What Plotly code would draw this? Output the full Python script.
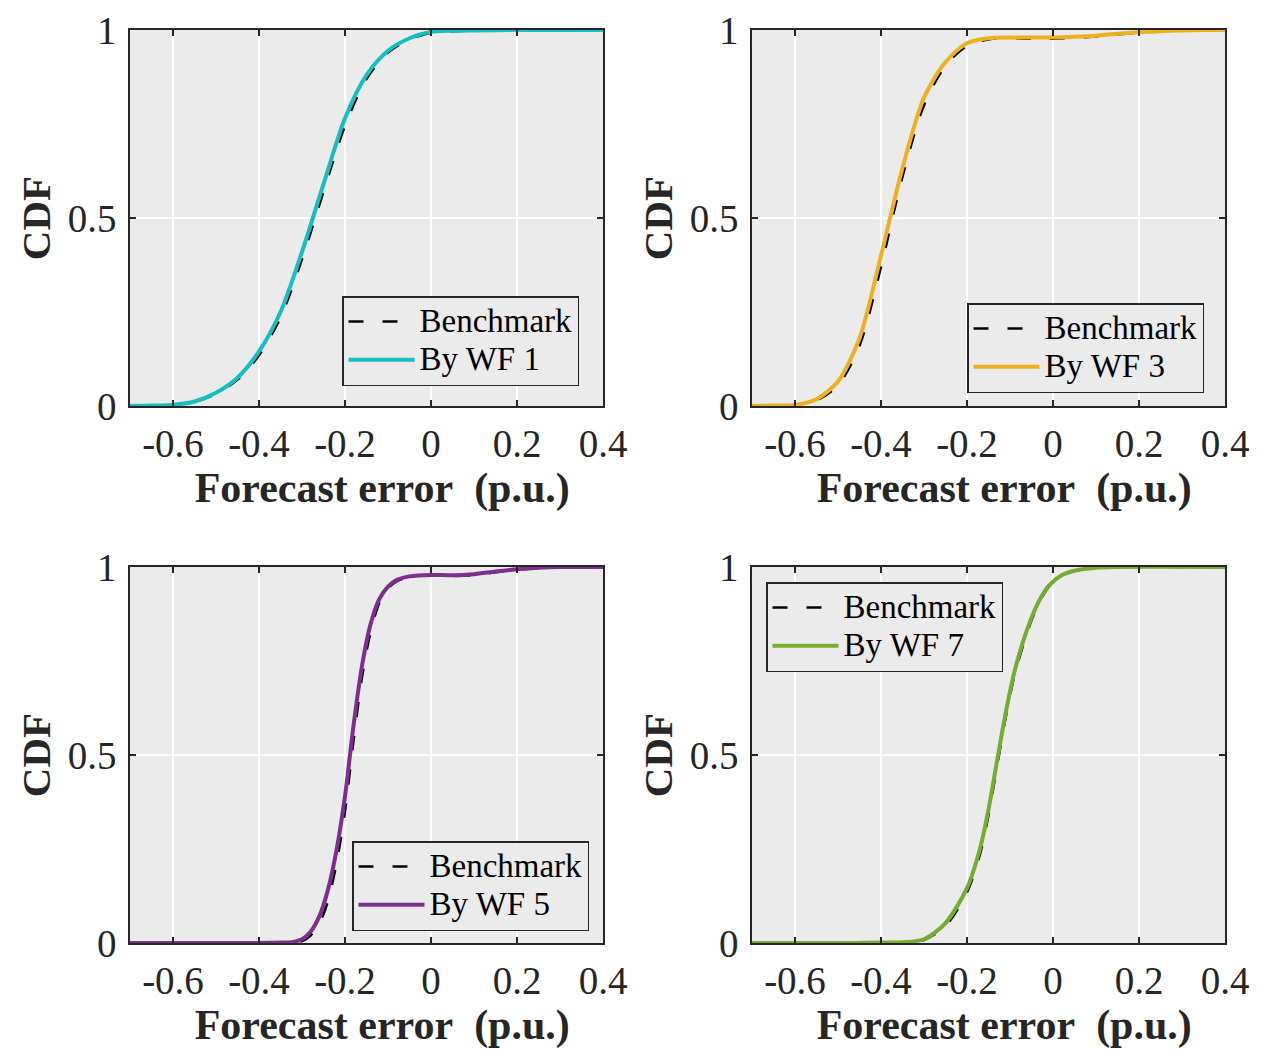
import plotly.graph_objects as go

# ---------------- data ----------------
x_wf1 = [-0.7, -0.65, -0.6, -0.55, -0.5, -0.45, -0.4, -0.35, -0.3, -0.25, -0.2, -0.15, -0.1, -0.05, 0.0, 0.05, 0.1, 0.2, 0.3, 0.4]
cdf_wf1 = [0, 0.001, 0.003, 0.012, 0.035, 0.075, 0.145, 0.25, 0.41, 0.59, 0.765, 0.88, 0.945, 0.978, 0.995, 0.998, 0.999, 1, 1, 1]
bench_wf1 = [0, 0.001, 0.003, 0.011, 0.032, 0.07, 0.135, 0.235, 0.39, 0.57, 0.745, 0.87, 0.94, 0.975, 0.993, 0.997, 0.999, 1, 1, 1]

x_wf3 = [-0.7, -0.65, -0.6, -0.55, -0.5, -0.45, -0.4, -0.35, -0.3, -0.25, -0.2, -0.15, -0.1, -0.05, 0.0, 0.05, 0.1, 0.15, 0.2, 0.25, 0.3, 0.35, 0.4]
cdf_wf3 = [0, 0.001, 0.003, 0.018, 0.065, 0.18, 0.40, 0.633, 0.82, 0.915, 0.965, 0.978, 0.98, 0.98, 0.98, 0.982, 0.985, 0.99, 0.994, 0.997, 0.999, 1, 1]
bench_wf3 = [0, 0.001, 0.003, 0.015, 0.055, 0.16, 0.37, 0.61, 0.80, 0.905, 0.958, 0.975, 0.978, 0.977, 0.977, 0.979, 0.983, 0.988, 0.993, 0.996, 0.999, 1, 1]

x_wf5 = [-0.7, -0.5, -0.35, -0.32, -0.3, -0.28, -0.26, -0.24, -0.22, -0.2, -0.18, -0.16, -0.14, -0.12, -0.1, -0.08, -0.05, 0.0, 0.05, 0.1, 0.15, 0.2, 0.25, 0.3, 0.4]
cdf_wf5 = [0, 0, 0.001, 0.003, 0.01, 0.03, 0.07, 0.14, 0.245, 0.39, 0.58, 0.74, 0.85, 0.915, 0.948, 0.965, 0.975, 0.979, 0.978, 0.981, 0.988, 0.994, 0.998, 1, 1]
bench_wf5 = [0, 0, 0.0, 0.002, 0.005, 0.02, 0.05, 0.11, 0.21, 0.35, 0.54, 0.71, 0.83, 0.905, 0.943, 0.962, 0.974, 0.977, 0.976, 0.978, 0.986, 0.993, 0.997, 0.999, 1]

x_wf7 = [-0.7, -0.5, -0.4, -0.35, -0.3, -0.25, -0.2, -0.17, -0.15, -0.13, -0.11, -0.09, -0.07, -0.05, -0.03, -0.01, 0.02, 0.05, 0.1, 0.15, 0.4]
cdf_wf7 = [0, 0, 0.001, 0.002, 0.01, 0.053, 0.146, 0.25, 0.355, 0.485, 0.612, 0.72, 0.80, 0.865, 0.915, 0.95, 0.978, 0.99, 0.998, 1, 1]
bench_wf7 = [0, 0, 0.0, 0.001, 0.008, 0.045, 0.135, 0.235, 0.34, 0.47, 0.6, 0.71, 0.79, 0.858, 0.91, 0.947, 0.976, 0.989, 0.998, 1, 1]

panel_names = ["By WF 1", "By WF 3", "By WF 5", "By WF 7"]
panel_colors = ["#17BEBF", "#EDB120", "#7E2F8E", "#77AC30"]
x_tick_vals = [-0.6, -0.4, -0.2, 0, 0.2, 0.4]
x_tick_text = ["-0.6", "-0.4", "-0.2", "0", "0.2", "0.4"]
y_tick_vals = [0, 0.5, 1]
y_tick_text = ["0", "0.5", "1"]

panels = [
    (x_wf1, bench_wf1, cdf_wf1),
    (x_wf3, bench_wf3, cdf_wf3),
    (x_wf5, bench_wf5, cdf_wf5),
    (x_wf7, bench_wf7, cdf_wf7),
]

# ---------------- layout ----------------
W, H = 1263, 1057
FONT = "Liberation Serif, Times New Roman, serif"
LEG_TXT = '<span style="font-size:33px">%s</span>'

x_domains = [[130 / W, 603 / W], [752 / W, 1225 / W], [130 / W, 603 / W], [752 / W, 1225 / W]]
y_domains = [[1 - 406 / H, 1 - 30 / H], [1 - 406 / H, 1 - 30 / H], [1 - 943 / H, 1 - 567 / H], [1 - 943 / H, 1 - 567 / H]]
legend_pos = [(342 / W, 1 - 296 / H), (967 / W, 1 - 303 / H), (352 / W, 1 - 841 / H), (766 / W, 1 - 582 / H)]

fig = go.Figure()
for i, (xs, bench, cdf) in enumerate(panels):
    sfx = "" if i == 0 else str(i + 1)
    leg = "legend" if i == 0 else "legend" + str(i + 1)
    fig.add_trace(go.Scatter(
        x=xs, y=bench, mode="lines", name=LEG_TXT % "Benchmark",
        line=dict(color="black", width=2.5, dash="15px,19px", shape="spline", smoothing=0.8),
        xaxis="x" + sfx, yaxis="y" + sfx, legend=leg))
    fig.add_trace(go.Scatter(
        x=xs, y=cdf, mode="lines", name=LEG_TXT % panel_names[i],
        line=dict(color=panel_colors[i], width=4, shape="spline", smoothing=0.8),
        xaxis="x" + sfx, yaxis="y" + sfx, legend=leg))

layout = dict(
    template="none",
    width=W, height=H,
    margin=dict(l=0, r=0, t=0, b=0, autoexpand=False),
    paper_bgcolor="white",
    plot_bgcolor="#EBEBEB",
    font=dict(family=FONT, size=36, color="#262626"),
    showlegend=True,
)

axis_common = dict(
    automargin=False,
    showline=True, linecolor="#262626", linewidth=1.5, mirror="ticks",
    ticks="inside", ticklen=6, tickwidth=1.5, tickcolor="#262626",
    showgrid=True, gridcolor="white", gridwidth=2, zeroline=False,
    tickfont=dict(family=FONT, size=39, color="#262626"),
)

for i in range(4):
    sfx = "" if i == 0 else str(i + 1)
    layout["xaxis" + sfx] = dict(
        axis_common, domain=x_domains[i], anchor="y" + sfx,
        range=[-0.7, 0.4], tickvals=x_tick_vals, ticktext=x_tick_text,
        ticklabelstandoff=2,
        title=dict(text="<b>\u00a0\u00a0\u00a0Forecast error\u00a0 (p.u.)</b>", standoff=4,
                   font=dict(family=FONT, size=42, color="#262626")),
    )
    layout["yaxis" + sfx] = dict(
        axis_common, domain=y_domains[i], anchor="x" + sfx,
        range=[0, 1], tickvals=y_tick_vals, ticktext=y_tick_text,
        ticklabelstandoff=4,
        title=dict(text="<b>CDF</b>", standoff=4,
                   font=dict(family=FONT, size=41, color="#262626")),
    )
    leg = "legend" if i == 0 else "legend" + str(i + 1)
    lx, ly = legend_pos[i]
    layout[leg] = dict(
        x=lx, y=ly, xanchor="left", yanchor="top",
        bgcolor="#EBEBEB", bordercolor="#262626", borderwidth=1.5,
        font=dict(family=FONT, size=27, color="black"),
        tracegroupgap=0, itemwidth=66,
    )

fig.update_layout(**layout)
fig.write_html("out.html")
